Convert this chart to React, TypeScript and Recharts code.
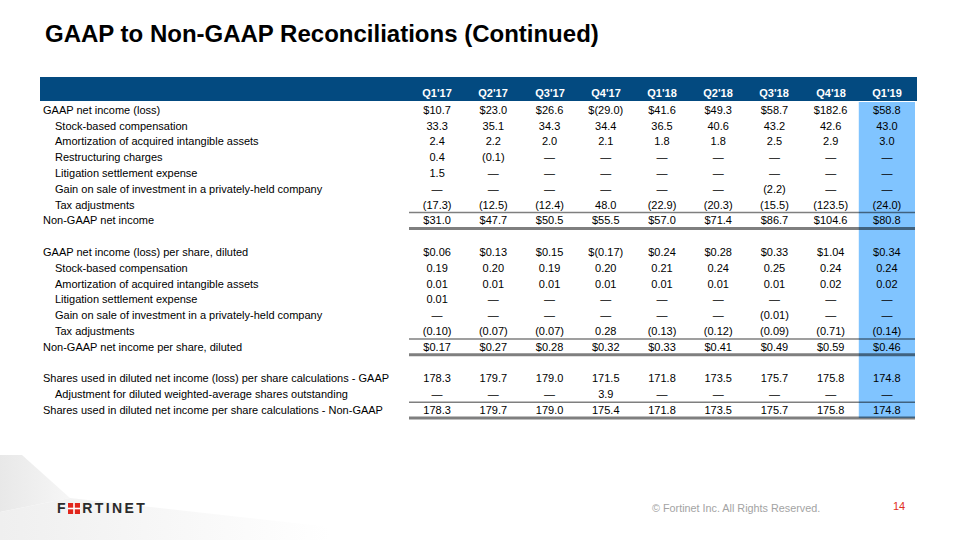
import React from "react";
import { ComposedChart, Scatter, XAxis, YAxis, ReferenceArea, ReferenceLine } from "recharts";

const quarters = ["Q1'17", "Q2'17", "Q3'17", "Q4'17", "Q1'18", "Q2'18", "Q3'18", "Q4'18", "Q1'19"];

const D = "—";
// net income block ($M)
const gaapNetIncome = ["$10.7", "$23.0", "$26.6", "$(29.0)", "$41.6", "$49.3", "$58.7", "$182.6", "$58.8"];
const stockComp = ["33.3", "35.1", "34.3", "34.4", "36.5", "40.6", "43.2", "42.6", "43.0"];
const amortization = ["2.4", "2.2", "2.0", "2.1", "1.8", "1.8", "2.5", "2.9", "3.0"];
const restructuring = ["0.4", "(0.1)", D, D, D, D, D, D, D];
const litigation = ["1.5", D, D, D, D, D, D, D, D];
const gainOnSale = [D, D, D, D, D, D, "(2.2)", D, D];
const taxAdj = ["(17.3)", "(12.5)", "(12.4)", "48.0", "(22.9)", "(20.3)", "(15.5)", "(123.5)", "(24.0)"];
const nonGaapNetIncome = ["$31.0", "$47.7", "$50.5", "$55.5", "$57.0", "$71.4", "$86.7", "$104.6", "$80.8"];
// per share block
const gaapEps = ["$0.06", "$0.13", "$0.15", "$(0.17)", "$0.24", "$0.28", "$0.33", "$1.04", "$0.34"];
const stockCompEps = ["0.19", "0.20", "0.19", "0.20", "0.21", "0.24", "0.25", "0.24", "0.24"];
const amortEps = ["0.01", "0.01", "0.01", "0.01", "0.01", "0.01", "0.01", "0.02", "0.02"];
const litigationEps = ["0.01", D, D, D, D, D, D, D, D];
const gainEps = [D, D, D, D, D, D, "(0.01)", D, D];
const taxEps = ["(0.10)", "(0.07)", "(0.07)", "0.28", "(0.13)", "(0.12)", "(0.09)", "(0.71)", "(0.14)"];
const nonGaapEps = ["$0.17", "$0.27", "$0.28", "$0.32", "$0.33", "$0.41", "$0.49", "$0.59", "$0.46"];
// shares block
const sharesGaap = ["178.3", "179.7", "179.0", "171.5", "171.8", "173.5", "175.7", "175.8", "174.8"];
const sharesAdj = [D, D, D, "3.9", D, D, D, D, D];
const sharesNonGaap = ["178.3", "179.7", "179.0", "175.4", "171.8", "173.5", "175.7", "175.8", "174.8"];

const rows = [
  { label: "GAAP net income (loss)", indent: 0, values: gaapNetIncome },
  { label: "Stock-based compensation", indent: 1, values: stockComp },
  { label: "Amortization of acquired intangible assets", indent: 1, values: amortization },
  { label: "Restructuring charges", indent: 1, values: restructuring },
  { label: "Litigation settlement expense", indent: 1, values: litigation },
  { label: "Gain on sale of investment in a privately-held company", indent: 1, values: gainOnSale },
  { label: "Tax adjustments", indent: 1, values: taxAdj },
  { label: "Non-GAAP net income", indent: 0, values: nonGaapNetIncome, total: true },
  { label: "", indent: 0, values: [] },
  { label: "GAAP net income (loss) per share, diluted", indent: 0, values: gaapEps },
  { label: "Stock-based compensation", indent: 1, values: stockCompEps },
  { label: "Amortization of acquired intangible assets", indent: 1, values: amortEps },
  { label: "Litigation settlement expense", indent: 1, values: litigationEps },
  { label: "Gain on sale of investment in a privately-held company", indent: 1, values: gainEps },
  { label: "Tax adjustments", indent: 1, values: taxEps },
  { label: "Non-GAAP net income per share, diluted", indent: 0, values: nonGaapEps, total: true },
  { label: "", indent: 0, values: [] },
  { label: "Shares used in diluted net income (loss) per share calculations - GAAP", indent: 0, values: sharesGaap },
  { label: "Adjustment for diluted weighted-average shares outstanding", indent: 1, values: sharesAdj },
  { label: "Shares used in diluted net income per share calculations - Non-GAAP", indent: 0, values: sharesNonGaap, total: true },
];

const rowIds = rows.map((_, i) => `r${i}`);
const totalIds = rows.map((r, i) => (r.total ? rowIds[i] : null)).filter(Boolean) as string[];

const cells = rows.flatMap((r, ri) =>
  quarters.map((q, qi) => ({ q, row: rowIds[ri], text: r.values[qi] ?? "" }))
);

const FONT = "Arial, 'Liberation Sans', sans-serif";

function HeaderTick(props: any) {
  const { x, payload } = props;
  return (
    <text x={Math.round(x)} y={97} textAnchor="middle" fill="#ffffff" fontWeight={700} fontSize={11} fontFamily={FONT}>
      {payload.value}
    </text>
  );
}

function RowLabel(props: any) {
  const { y, payload } = props;
  const r = rows[rowIds.indexOf(payload.value)];
  if (!r || !r.label) return <g />;
  return (
    <text x={43 + r.indent * 12} y={y} dy="0.35em" textAnchor="start" fill="#000" fontSize={11} fontFamily={FONT}>
      {r.label}
    </text>
  );
}

function CellText(props: any) {
  const { cx, cy, payload } = props;
  if (!payload || !payload.text) return <g />;
  return (
    <text x={cx} y={cy} dy="0.35em" textAnchor="middle" fill="#000" fontSize={11} fontFamily={FONT}>
      {payload.text}
    </text>
  );
}

export default function App() {
  return (
    <div style={{ position: "absolute", left: 0, top: 0, width: 960, height: 540, background: "#fff", overflow: "hidden", fontFamily: FONT }}>
      <svg width={960} height={540} style={{ position: "absolute", left: 0, top: 0 }}>
        <defs>
          <linearGradient id="sw1" x1="0" y1="0" x2="1" y2="0">
            <stop offset="0%" stopColor="#e8e8e8" />
            <stop offset="100%" stopColor="#f6f6f6" />
          </linearGradient>
          <linearGradient id="sw2" x1="0" y1="0" x2="1" y2="0">
            <stop offset="0%" stopColor="#efefef" />
            <stop offset="100%" stopColor="#ffffff" />
          </linearGradient>
        </defs>
        <polygon points="0,455 22,455 70,498 0,512" fill="url(#sw1)" />
        <polygon points="0,512 70,498 330,527 330,540 0,540" fill="url(#sw2)" />
      </svg>

      <div style={{ position: "absolute", left: 45, top: 22, fontSize: 24, lineHeight: "24px", fontWeight: "bold", color: "#000", whiteSpace: "nowrap" }}>
        GAAP to Non-GAAP Reconciliations (Continued)
      </div>

      <div style={{ position: "absolute", left: 40, top: 77, width: 877, height: 24, background: "#034a80" }} />

      <div style={{ position: "absolute", left: 0, top: 0 }}>
        <ComposedChart width={960} height={540} margin={{ top: 77, right: 45, bottom: 122, left: 40 }}>
          <XAxis
            dataKey="q"
            type="category"
            scale="band"
            orientation="top"
            allowDuplicatedCategory={false}
            ticks={quarters}
            height={25}
            axisLine={false}
            tickLine={false}
            interval={0}
            tick={(p: any) => <HeaderTick {...p} />}
          />
          <YAxis
            dataKey="row"
            type="category"
            scale="band"
            allowDuplicatedCategory={false}
            ticks={rowIds}
            reversed
            width={369}
            axisLine={false}
            tickLine={false}
            interval={0}
            tick={(p: any) => <RowLabel {...p} />}
          />
          <ReferenceArea x1="Q1'19" x2="Q1'19" fill="#80c4ff" fillOpacity={1} stroke="none" ifOverflow="visible" />
          {totalIds.map((id) => (
            <ReferenceLine key={`${id}-s`} y={id} position="start" stroke="#000" strokeOpacity={0.5} strokeWidth={1.5} />
          ))}
          {totalIds.map((id) => (
            <ReferenceLine key={`${id}-e`} y={id} position="end" stroke="#000" strokeOpacity={0.5} strokeWidth={3} />
          ))}
          <Scatter data={cells} isAnimationActive={false} shape={(p: any) => <CellText {...p} />} />
        </ComposedChart>
      </div>

      <div style={{ position: "absolute", left: 57, top: 502, height: 12, display: "flex", alignItems: "center", fontSize: 14, fontWeight: "bold", color: "#2b2b2b", letterSpacing: 2.4, lineHeight: "12px" }}>
        <span>F</span>
        <svg width={12} height={11} style={{ marginRight: 2.4 }}>
          <rect x={0} y={0} width={12} height={11} fill="#e1261c" />
          <rect x={5.2} y={0} width={1.6} height={11} fill="#fff" />
          <rect x={0} y={4.7} width={12} height={1.6} fill="#fff" />
        </svg>
        <span>RTINET</span>
      </div>

      <div style={{ position: "absolute", left: 652, top: 502, fontSize: 10.8, lineHeight: "12px", color: "#a3a3a3", whiteSpace: "nowrap" }}>
        © Fortinet Inc. All Rights Reserved.
      </div>
      <div style={{ position: "absolute", left: 893, top: 500, fontSize: 11, lineHeight: "12px", color: "#e0301e" }}>14</div>
    </div>
  );
}
